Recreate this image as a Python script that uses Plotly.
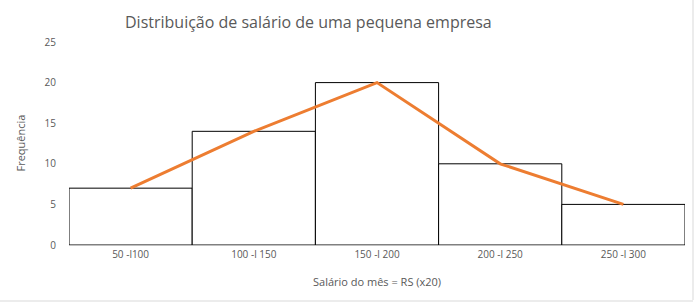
import plotly.graph_objects as go

categories = ["50 -l100", "100 -l 150", "150 -l 200", "200 -l 250", "250 -l 300"]
frequencies = [7, 14, 20, 10, 5]
y_ticks = [0, 5, 10, 15, 20, 25]

W, H = 700, 306
L, R, T, B = 69, 15, 42, 61
pw, ph = W - L - R, H - T - B

def px_x(x):
    return (x - L) / pw

def px_y(y):
    return (H - B - y) / ph

gray = "#595959"
font = "Open Sans"

fig = go.Figure()
fig.add_trace(go.Bar(
    x=list(range(len(categories))), y=frequencies, width=1,
    marker=dict(color="white", line=dict(color="black", width=1)),
    showlegend=False, hoverinfo="skip"))
fig.add_trace(go.Scatter(
    x=list(range(len(categories))), y=frequencies, mode="lines",
    line=dict(color="#ED7D31", width=3), showlegend=False))

fig.update_layout(
    width=W, height=H,
    margin=dict(l=L, r=R, t=T, b=B),
    paper_bgcolor="white", plot_bgcolor="white",
    font=dict(family=font, color=gray, size=11),
    title=dict(text="Distribuição de salário de uma pequena empresa",
               x=px_x(125), xref="paper", xanchor="left",
               y=1 - 22 / H, yref="container", yanchor="middle",
               font=dict(size=16, color=gray, family=font)),
    xaxis=dict(tickmode="array", tickvals=list(range(len(categories))),
               ticktext=categories, range=[-0.5, len(categories) - 0.5],
               showgrid=False, showline=True, linecolor="#bfbfbf", linewidth=1,
               ticks="", zeroline=False, tickfont=dict(size=10, color=gray)),
    yaxis=dict(range=[0, 25], tickmode="array", tickvals=y_ticks,
               showgrid=False, showline=False, zeroline=False, ticks="",
               tickfont=dict(size=10, color=gray), ticklabelstandoff=12),
    annotations=[
        dict(text="Salário do mês = RS (x20)", xref="paper", yref="paper",
             x=0.5, y=px_y(281), xanchor="center", yanchor="middle",
             showarrow=False, font=dict(size=11, color=gray)),
        dict(text="Frequência", xref="paper", yref="paper",
             x=px_x(20), y=0.5, xanchor="center", yanchor="middle",
             textangle=-90, showarrow=False, font=dict(size=11, color=gray)),
    ],
    shapes=[
        dict(type="line", xref="paper", yref="paper",
             x0=px_x(693), x1=px_x(693), y0=px_y(300), y1=px_y(0),
             line=dict(color="#d9d9d9", width=1)),
        dict(type="line", xref="paper", yref="paper",
             x0=px_x(0), x1=px_x(693), y0=px_y(301), y1=px_y(301),
             line=dict(color="#d9d9d9", width=1)),
    ],
)

fig.write_html("out.html")
